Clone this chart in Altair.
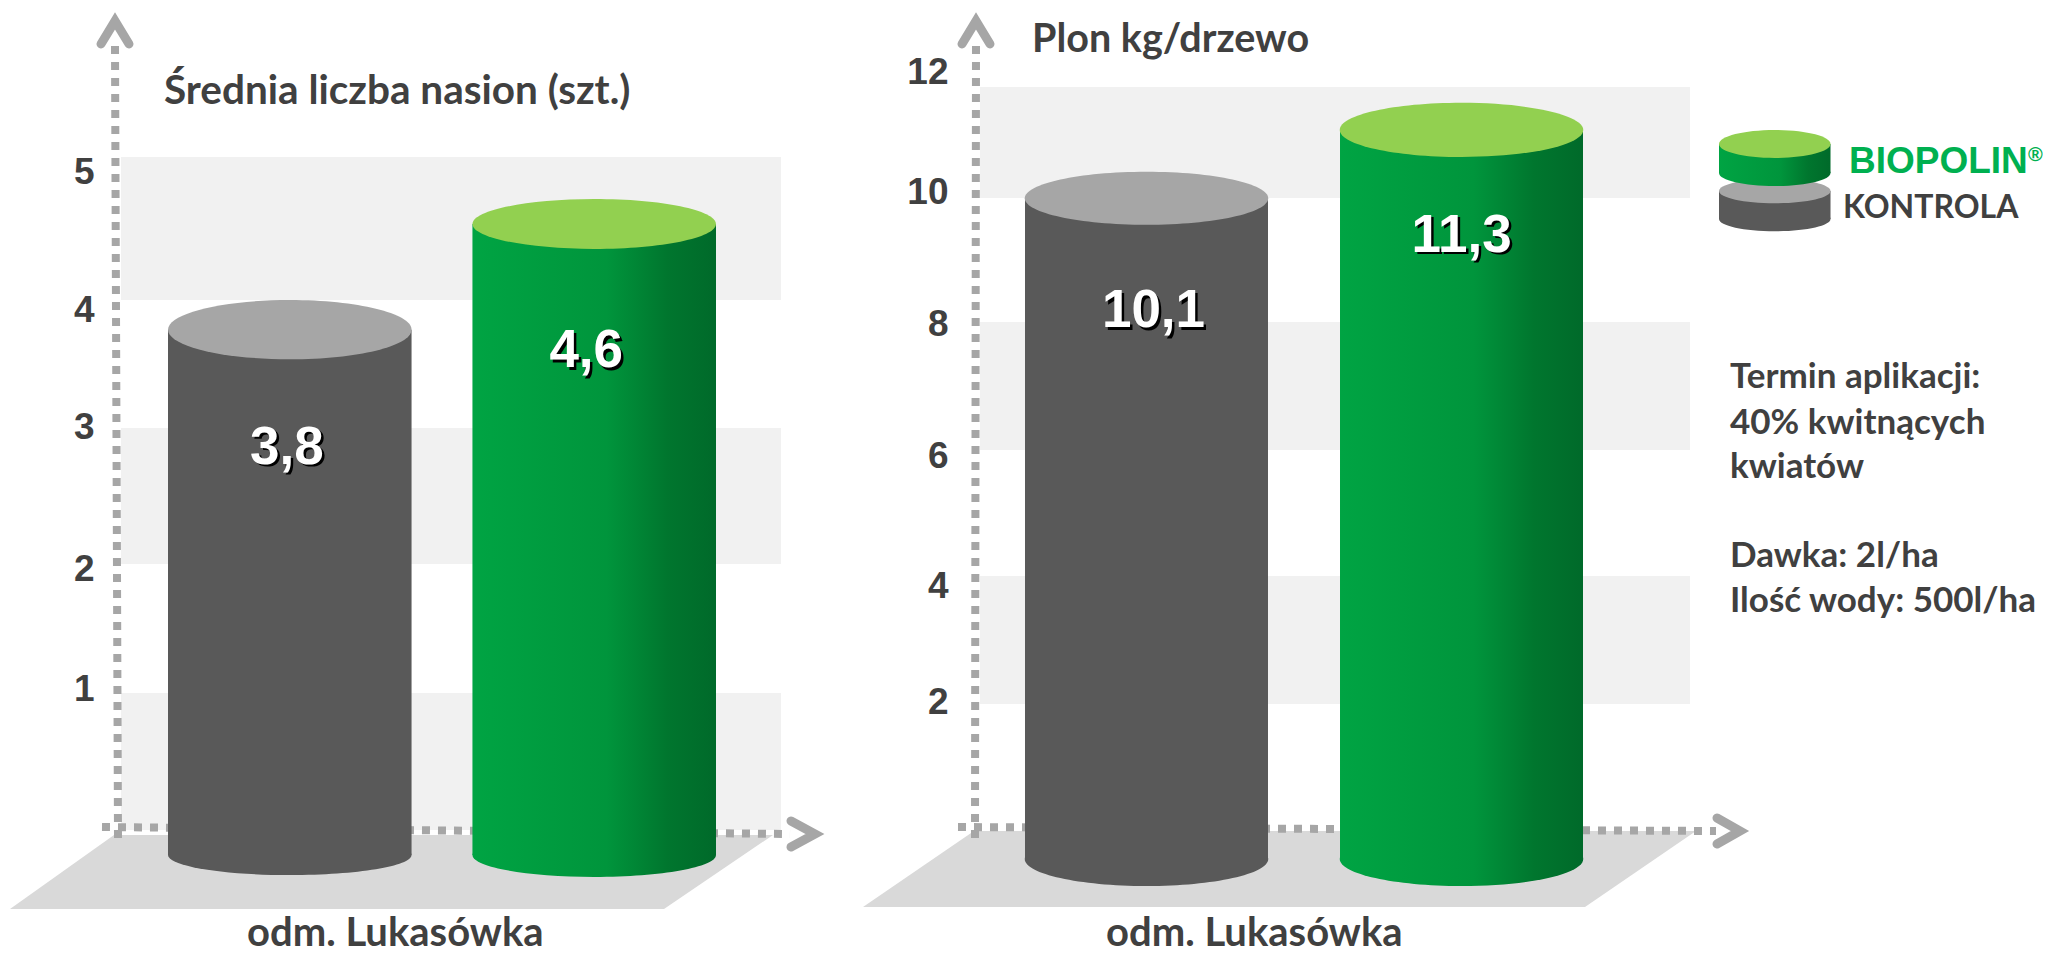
import altair as alt
import pandas as pd

# ---- values ----
series = ["KONTROLA", "BIOPOLIN"]
seeds = [3.8, 4.6]
seeds_labels = ["3,8", "4,6"]
yields = [10.1, 11.3]
yields_labels = ["10,1", "11,3"]
seeds_ticks = [1, 2, 3, 4, 5]
yields_ticks = [2, 4, 6, 8, 10, 12]
seeds_bands = [(0, 1), (2, 3), (4, 5)]
yields_bands = [(2, 4), (6, 8), (10, 12)]
info_lines = ["Termin aplikacji:", "40% kwitnących", "kwiatów", "Dawka: 2l/ha", "Ilość wody: 500l/ha"]

W, H = 2035, 946
GREY_AXIS = "#a6a6a6"
DARK = "#404040"
BAND = "#f1f1f1"
FLOOR = "#d9d9d9"
GREY_BODY = "#595959"
GREY_TOP = "#a6a6a6"
GREEN_TOP = "#92d050"
CAL = "Lato"
ARIAL = "Liberation Sans"


def X(v):
    return v - 8


def Y(v):
    return v - 8


green_grad = alt.Gradient(
    gradient="linear", x1=0, x2=1, y1=0, y2=0,
    stops=[
        alt.GradientStop(offset=0, color="#00a443"),
        alt.GradientStop(offset=0.55, color="#00953c"),
        alt.GradientStop(offset=0.8, color="#00762e"),
        alt.GradientStop(offset=1, color="#006a2a"),
    ],
)


def ellipse_path(b):
    k = 0.5523
    return (
        f"M-1,0C-1,{-k*b:.4f},{-k:.4f},{-b:.4f},0,{-b:.4f}"
        f"C{k:.4f},{-b:.4f},1,{-k*b:.4f},1,0"
        f"C1,{k*b:.4f},{k:.4f},{b:.4f},0,{b:.4f}"
        f"C{-k:.4f},{b:.4f},-1,{k*b:.4f},-1,0Z"
    )


def path_mark(path, fill=None, stroke=None, sw=0):
    args = dict(shape=path, size=4, opacity=1, filled=fill is not None)
    if fill:
        args["fill"] = fill
    if stroke:
        args.update(stroke=stroke, strokeWidth=sw, strokeCap="round", strokeJoin="miter")
    else:
        args["strokeWidth"] = 0
    return alt.Chart(pd.DataFrame({"a": [0]})).mark_point(**args).encode(x=alt.value(0), y=alt.value(0))


def poly(points):
    return "M" + "L".join(f"{X(a):.1f},{Y(b):.1f}" for a, b in points)


def label(text, x, y, size, color=DARK, font=CAL, align="left", weight="bold"):
    return alt.Chart(pd.DataFrame({"a": [0]})).mark_text(
        text=text, align=align, baseline="alphabetic", font=font, fontSize=size,
        fontWeight=weight, color=color,
    ).encode(x=alt.value(X(x)), y=alt.value(Y(y)))


def dotted(x1, y1, x2, y2):
    return alt.Chart(pd.DataFrame({"a": [0]})).mark_rule(
        color=GREY_AXIS, strokeWidth=8, strokeDash=[8, 8]
    ).encode(x=alt.value(X(x1)), y=alt.value(Y(y1)), x2=alt.value(X(x2)), y2=alt.value(Y(y2)))


def bands(pairs, dom, rng, xa, xb):
    df = pd.DataFrame({"lo": [p[0] for p in pairs], "hi": [p[1] for p in pairs]})
    return alt.Chart(df).mark_rect(color=BAND).encode(
        x=alt.value(X(xa)), x2=alt.value(X(xb)),
        y=alt.Y("lo:Q", scale=alt.Scale(domain=dom, range=[Y(r) for r in rng]), axis=None),
        y2="hi:Q",
    )


def tick_axis(ticks, pos, right_edge):
    df = pd.DataFrame({"t": ticks})
    return alt.Chart(df).mark_point(opacity=0, size=1).encode(
        y=alt.Y(
            "t:Q",
            scale=alt.Scale(domain=ticks, range=[Y(r) for r in pos]),
            axis=alt.Axis(
                orient="left", values=ticks, offset=-X(right_edge), domain=False, ticks=False,
                grid=False, title=None, labelPadding=0, labelFont=ARIAL, labelFontSize=37,
                labelFontWeight="bold", labelColor=DARK, format="d",
            ),
        ),
        x=alt.value(0),
    )


def cylinder(cat, val, txt, xscale, yscale, top_b, bot_b, dx, dy, layers_out):
    df = pd.DataFrame({"k": [cat], "v": [val], "z": [0], "txt": [txt]})
    green = cat == "BIOPOLIN"
    body = green_grad if green else GREY_BODY
    top = GREEN_TOP if green else GREY_TOP
    xe = alt.X("k:N", scale=xscale, axis=None)
    ye = alt.Y("v:Q", scale=yscale, axis=None, stack=None)
    y0 = alt.Y("z:Q", scale=yscale, axis=None)
    size = 243.5 ** 2
    base = alt.Chart(df)
    layers_out.append(
        base.mark_point(shape=ellipse_path(bot_b), size=size, filled=True, fill=body, opacity=1, strokeWidth=0).encode(x=xe, y=y0)
    )
    layers_out.append(base.mark_bar(fill=body).encode(x=xe, y=ye))
    layers_out.append(
        base.mark_point(shape=ellipse_path(top_b), size=size, filled=True, fill=top, opacity=1, strokeWidth=0).encode(x=xe, y=ye)
    )
    common = dict(font=ARIAL, fontSize=53, fontWeight="bold", baseline="middle", align="center")
    layers_out.append(
        base.mark_text(color="#000000", dx=dx + 2.5, dy=dy + 2.5, **common).encode(x=xe, y=ye, text="txt:N")
    )
    layers_out.append(base.mark_text(color="#ffffff", dx=dx, dy=dy, **common).encode(x=xe, y=ye, text="txt:N"))


layers = []

# ---- left panel ----
layers.append(path_mark(poly([(114, 835), (773, 835), (664, 909), (10, 909)]) + "Z", fill=FLOOR))
layers.append(bands(seeds_bands, [0, 1, 2, 3, 4, 5], [830, 693, 564, 428, 300, 157], 121, 781))
layers.append(dotted(115, 46, 118, 838))
layers.append(dotted(102, 827, 790, 834))
layers.append(path_mark(poly([(101, 44), (115, 21), (129, 44)]), stroke=GREY_AXIS, sw=9))
layers.append(path_mark(poly([(791, 821), (815, 834), (791, 847)]), stroke=GREY_AXIS, sw=9))
layers.append(tick_axis(seeds_ticks, [689.5, 569.5, 427, 310.5, 172.5], 94))

sx = alt.Scale(type="band", domain=series, range=[X(168), X(716)], paddingInner=0.2, paddingOuter=0)
sy = alt.Scale(domain=[0, 4, 5], range=[Y(855), Y(302), Y(172)])
cylinder(series[0], seeds[0], seeds_labels[0], sx, sy, 0.243, 0.165, -3, 118, layers)
cylinder(series[1], seeds[1], seeds_labels[1], sx, sy, 0.205, 0.18, -8, 127, layers)
layers.append(label("Średnia liczba nasion (szt.)", 164, 104, 40.5))
layers.append(label("odm. Lukasówka", 247, 946, 40))

# ---- right panel ----
layers.append(path_mark(poly([(974, 831), (1696, 831), (1585, 907), (863, 907)]) + "Z", fill=FLOOR))
layers.append(bands(yields_bands, [2, 4, 6, 8, 10, 12], [704, 576, 450, 322, 198, 87], 980, 1690))
layers.append(dotted(976, 46, 975, 838))
layers.append(dotted(958, 827, 1716, 831))
layers.append(path_mark(poly([(962, 44), (976, 21), (990, 44)]), stroke=GREY_AXIS, sw=9))
layers.append(path_mark(poly([(1717, 818), (1740, 831), (1717, 844)]), stroke=GREY_AXIS, sw=9))
layers.append(tick_axis(yields_ticks, [702.5, 586.5, 456.5, 324.5, 192.5, 72.5], 948))

sx2 = alt.Scale(type="band", domain=series, range=[X(1025), X(1583)], paddingInner=0.2286, paddingOuter=0)
sy2 = alt.Scale(domain=[0, 10, 12], range=[Y(859), Y(204), Y(90)])
cylinder(series[0], yields[0], yields_labels[0], sx2, sy2, 0.218, 0.222, 7, 113, layers)
cylinder(series[1], yields[1], yields_labels[1], sx2, sy2, 0.222, 0.222, 0, 106, layers)
layers.append(label("Plon kg/drzewo", 1032, 52, 39.5))
layers.append(label("odm. Lukasówka", 1106, 946, 40))


# ---- legend ----
def legend_cyl(y_top, y_bot, top_b, bot_b, body, top):
    cx = (1719 + 1830.5) / 2
    sz = 111.5 ** 2
    out = []
    pts = pd.DataFrame({"a": [0]})
    out.append(alt.Chart(pts).mark_point(shape=ellipse_path(bot_b), size=sz, filled=True, fill=body, opacity=1, strokeWidth=0)
               .encode(x=alt.value(X(cx)), y=alt.value(Y(y_bot))))
    out.append(alt.Chart(pts).mark_rect(fill=body).encode(
        x=alt.value(X(1719)), x2=alt.value(X(1830.5)), y=alt.value(Y(y_top)), y2=alt.value(Y(y_bot))))
    out.append(alt.Chart(pts).mark_point(shape=ellipse_path(top_b), size=sz, filled=True, fill=top, opacity=1, strokeWidth=0)
               .encode(x=alt.value(X(cx)), y=alt.value(Y(y_top))))
    return out


layers += legend_cyl(191, 219, 0.22, 0.22, GREY_BODY, GREY_TOP)
layers += legend_cyl(144, 173, 0.25, 0.235, green_grad, GREEN_TOP)
layers.append(label("BIOPOLIN", 1849, 173, 37, color="#00b050", font=ARIAL))
layers.append(label("®", 2028, 161, 20, color="#00b050", font=ARIAL))
layers.append(label("KONTROLA", 1843, 218, 32))

# ---- notes ----
for line, base_y in zip(info_lines, [388, 434, 478, 567, 612]):
    layers.append(label(line, 1730, base_y, 35))

chart = (
    alt.layer(*layers)
    .resolve_scale(x="independent", y="independent")
    .properties(width=W, height=H, padding=0, autosize=alt.AutoSizeParams(type="none"), background="white")
    .configure_view(stroke=None)
)
chart.save("out.html", embed_options={"renderer": "svg", "actions": False})
